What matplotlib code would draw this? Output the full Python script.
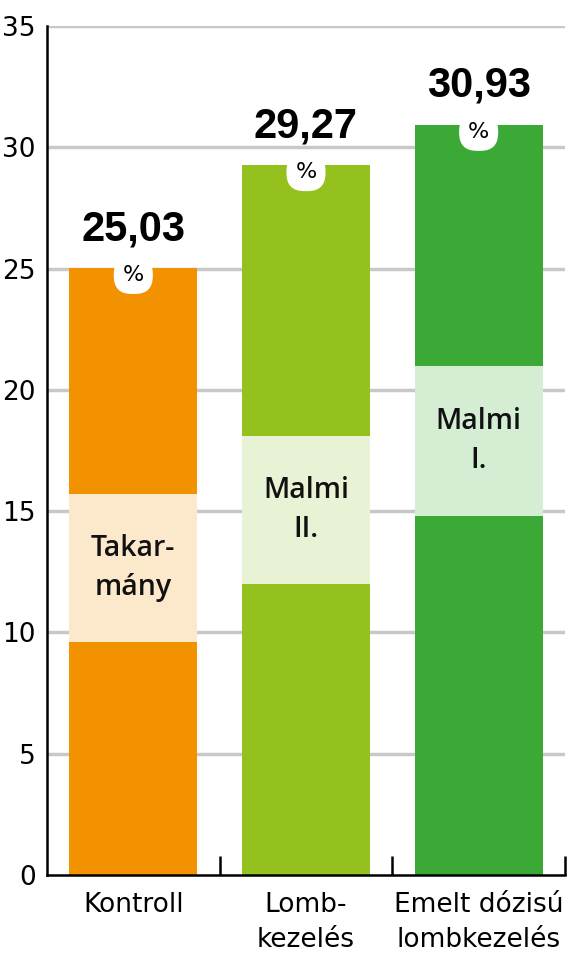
import matplotlib.pyplot as plt
import numpy as np

# data
categories = ['Kontroll', 'Lomb-\nkezelés', 'Emelt dózisú\nlombkezelés']
values = [25.03, 29.27, 30.93]
value_labels = ['25,03', '29,27', '30,93']
band_low = [9.6, 12.0, 14.8]
band_high = [15.7, 18.1, 21.0]
band_text = ['Takar-\nmány', 'Malmi\nII.', 'Malmi\nI.']

bar_colors = ['#F39200', '#95C11F', '#3AA935']
band_colors = ['#FCE8CB', '#E8F2D4', '#D5EDD3']

plt.rcParams['font.family'] = ['DejaVu Sans']

fig = plt.figure(figsize=(5.68, 9.55), dpi=100)
ax = fig.add_axes([0.0827, 0.0838, 0.912, 0.889])

x = np.arange(len(categories))
w = 0.74

for yv in range(5, 36, 5):
    ax.axhline(yv, color='#c8c8c8', lw=2.5, zorder=0)

ax.bar(x, values, width=w, color=bar_colors, zorder=2)
ax.bar(x, np.array(band_high) - np.array(band_low), bottom=band_low,
       width=w, color=band_colors, zorder=3)

for i in range(len(x)):
    ax.text(x[i], (band_low[i] + band_high[i]) / 2, band_text[i],
            ha='center', va='center', fontsize=20.5, fontweight='semibold',
            family='Open Sans', linespacing=1.45, color='#111111', zorder=4)
    ax.text(x[i], values[i] + 1.6, value_labels[i], ha='center', va='center',
            fontsize=30, fontweight='bold', color='black', zorder=4,
            family='Liberation Sans')
    ax.text(x[i], values[i] - 0.3, '%', ha='center', va='center',
            fontsize=16, color='black', zorder=5,
            bbox=dict(boxstyle='round,pad=0.4,rounding_size=0.8',
                      fc='white', ec='none'))

ax.set_xlim(-0.5, 2.5)
ax.set_ylim(0, 35)
ax.set_yticks(range(0, 36, 5))
ax.tick_params(axis='y', length=0, labelsize=19, pad=8)
ax.set_xticks(x)
ax.set_xticklabels(categories)
ax.tick_params(axis='x', which='major', length=0, labelsize=19, pad=12)
ax.set_xticks([0.5, 1.5, 2.5], minor=True)
ax.tick_params(axis='x', which='minor', direction='in', length=14, width=1.8,
               color='black')
for lbl in ax.get_xticklabels():
    lbl.set_linespacing(1.45)

ax.spines['top'].set_visible(False)
ax.spines['right'].set_visible(False)
ax.spines['left'].set_linewidth(1.8)
ax.spines['bottom'].set_linewidth(1.8)

fig.savefig('out.png', dpi=100)
